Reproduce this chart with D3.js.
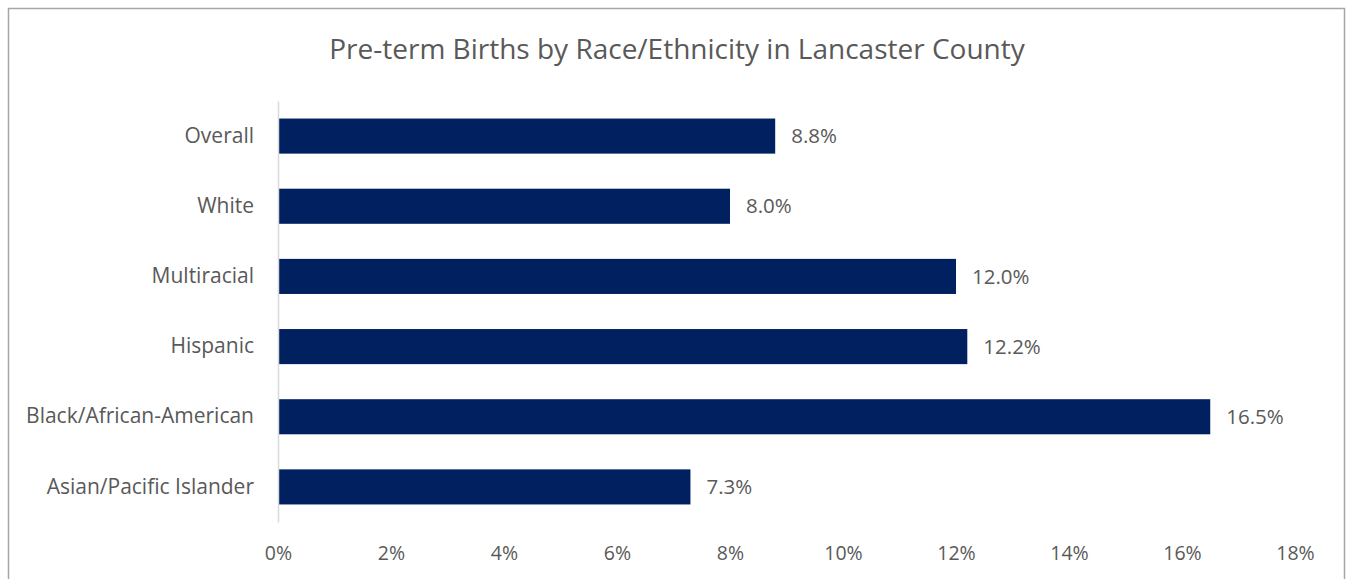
<!DOCTYPE html>
<html>
<head>
<meta charset="utf-8">
<script src="https://cdn.jsdelivr.net/npm/d3@7"></script>
<style>
  html, body { margin: 0; padding: 0; background: #fff; }
  svg { display: block; }
  text { font-family: "Open Sans", "Noto Sans", sans-serif; fill: #595959; }
</style>
</head>
<body>
<svg id="chart" width="1346" height="579"></svg>
<script>
// Pre-term birth rates (%) by race/ethnicity
const categories = ["Overall", "White", "Multiracial", "Hispanic", "Black/African-American", "Asian/Pacific Islander"];
const values = [8.8, 8.0, 12.0, 12.2, 16.5, 7.3];
const tickValues = [0, 2, 4, 6, 8, 10, 12, 14, 16, 18];
const title = "Pre-term Births by Race/Ethnicity in Lancaster County";

const svg = d3.select("#chart");

// outer chart frame
svg.append("rect")
  .attr("x", 8.5).attr("y", 8.5)
  .attr("width", 1336).attr("height", 600)
  .attr("fill", "#fff").attr("stroke", "#a6a6a6").attr("stroke-width", 1.5);

const plot = { left: 278, right: 1295, top: 101, bottom: 522 };

const x = d3.scaleLinear().domain([0, 18]).range([plot.left, plot.right]);
const y = d3.scaleBand().domain(categories).range([plot.top, plot.bottom]).paddingInner(0.5).paddingOuter(0.25);

svg.append("text")
  .attr("x", 677).attr("y", 59)
  .attr("text-anchor", "middle")
  .style("font-size", "28px")
  .text(title);

// bars
svg.append("g").selectAll("rect")
  .data(values)
  .join("rect")
  .attr("x", x(0) + 1)
  .attr("y", (d, i) => y(categories[i]))
  .attr("width", d => x(d) - x(0) - 1)
  .attr("height", y.bandwidth())
  .attr("fill", "#002060");

// value labels
svg.append("g").selectAll("text")
  .data(values)
  .join("text")
  .attr("x", d => x(d) + 16)
  .attr("y", (d, i) => y(categories[i]) + y.bandwidth() / 2)
  .attr("dy", "0.35em")
  .style("font-size", "20.5px")
  .text(d => d.toFixed(1) + "%");

// category axis
const yAxis = svg.append("g")
  .attr("transform", `translate(${plot.left},0)`)
  .call(d3.axisLeft(y).tickSize(0).tickPadding(24));
yAxis.select(".domain").attr("stroke", "#d9d9d9").attr("stroke-width", 1.5);
yAxis.selectAll("text").style("font-size", "21px").attr("fill", "#595959");

// value axis (labels only)
const xAxis = svg.append("g")
  .attr("transform", `translate(0,${plot.bottom})`)
  .call(d3.axisBottom(x).tickValues(tickValues).tickSize(0).tickPadding(24).tickFormat(d => d + "%"));
xAxis.select(".domain").remove();
xAxis.selectAll("text").style("font-size", "19.5px").attr("fill", "#595959");
</script>
</body>
</html>
